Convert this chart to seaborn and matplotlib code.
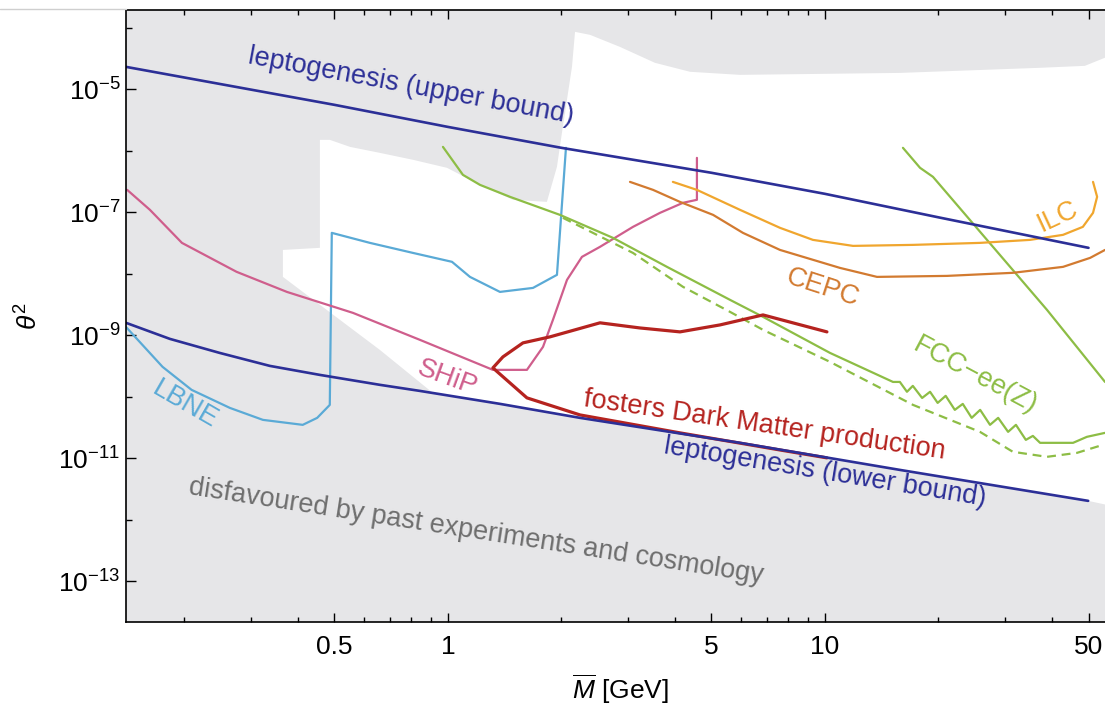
import numpy as np
import matplotlib
matplotlib.use("Agg")
import matplotlib.pyplot as plt
import matplotlib.ticker as mticker
from matplotlib.lines import Line2D
import seaborn as sns

# ---------------- data ----------------
# leptogenesis upper bound
lepto_up_M = [0.14, 0.5, 1.0, 2.0, 5.0, 10.0, 20.0, 50.0]
lepto_up_T = [2.32e-5, 5.6e-6, 2.45e-6, 1.12e-6, 4.4e-7, 2.0e-7, 8.3e-8, 2.65e-8]

# leptogenesis lower bound
lepto_lo_M = [0.14, 0.183, 0.248, 0.337, 0.457, 0.66, 0.843, 1.374, 2.24, 5.95, 15.8, 49.9]
lepto_lo_T = [1.60e-9, 8.77e-10, 5.19e-10, 3.19e-10, 2.28e-10, 1.57e-10, 1.25e-10,
              7.7e-11, 4.56e-11, 1.79e-11, 6.5e-12, 2.04e-12]

# allowed (white) region boundary
allowed_M = [0.365, 0.4575, 0.4575, 0.486, 0.55, 0.66, 0.808, 0.994, 1.216, 1.487, 1.83,
             1.946, 2.006, 2.133, 2.173, 2.381, 2.859, 3.54, 4.385, 5.95, 15.8, 37.2, 48.9,
             60.0, 60.0, 49.9, 15.8, 5.95, 2.24, 1.374, 0.912, 0.66, 0.365]
allowed_T = [2.45e-8, 2.65e-8, 1.51e-6, 1.51e-6, 1.16e-6, 9.27e-7, 7.15e-7, 5.3e-7, 2.8e-7,
             1.6e-7, 1.48e-7, 5.5e-7, 1.96e-6, 2.32e-5, 8.6e-5, 7.7e-5, 4.9e-5, 2.7e-5,
             1.93e-5, 1.72e-5, 1.85e-5, 2.24e-5, 2.41e-5, 4.0e-5, 1.6e-12, 2.04e-12,
             6.5e-12, 1.79e-11, 4.56e-11, 7.7e-11, 1.16e-10, 5.8e-10, 8.93e-9]

# LBNE
lbne_M = [0.14, 0.175, 0.209, 0.264, 0.323, 0.412, 0.45, 0.486, 0.492, 0.621, 0.808,
          1.025, 1.144, 1.374, 1.681, 1.946, 2.056]
lbne_T = [1.37e-9, 3.08e-10, 1.30e-10, 6.62e-11, 4.23e-11, 3.51e-11, 4.56e-11, 7.41e-11,
          4.64e-8, 3.19e-8, 2.19e-8, 1.57e-8, 8.93e-9, 5.09e-9, 5.91e-9, 9.64e-9, 1.12e-6]

# SHiP
ship_M = [0.141, 0.162, 0.197, 0.275, 0.374, 0.56, 0.843, 1.316, 1.62, 1.787, 1.899,
          2.069, 2.267, 2.531, 3.096, 3.651, 4.202, 4.575, 4.575]
ship_T = [2.32e-7, 1.10e-7, 3.19e-8, 1.08e-8, 5.09e-9, 2.32e-9, 8.45e-10, 2.75e-10,
          2.75e-10, 6.5e-10, 1.79e-9, 7.98e-9, 1.89e-8, 2.75e-8, 5.81e-8, 9.82e-8,
          1.43e-7, 1.60e-7, 7.69e-7]

# FCC-ee(Z), solid
fcc_M = [0.97, 1.096, 1.216, 1.46, 1.982, 2.74, 3.81, 5.6, 6.85, 10.31, 15.15, 15.8,
         16.5, 17.1, 18.1, 19.0, 19.9, 20.9, 22.1, 23.2, 24.5, 25.8, 27.4, 28.8, 30.6,
         32.1, 34.1, 35.6, 37.2, 45.5, 49.5, 55.3]
fcc_T = [1.16e-6, 4.07e-7, 2.80e-7, 1.79e-7, 9.1e-8, 3.85e-8, 1.30e-8, 3.78e-9, 2.0e-9,
         5.19e-10, 1.75e-10, 1.75e-10, 1.21e-10, 1.51e-10, 9.6e-11, 1.21e-10, 7.98e-11,
         1.04e-10, 6.15e-11, 7.69e-11, 4.56e-11, 6.15e-11, 3.51e-11, 4.56e-11, 2.70e-11,
         3.51e-11, 2.0e-11, 2.32e-11, 1.79e-11, 1.79e-11, 2.24e-11, 2.6e-11]

# FCC-ee(Z), dashed
fccd_M = [2.018, 3.096, 4.202, 5.6, 6.85, 10.31, 17.12, 25.77, 31.5, 38.8, 46.6, 54.6]
fccd_T = [8.15e-8, 2.19e-8, 6.15e-9, 2.41e-9, 1.23e-9, 3.71e-10, 7.41e-11, 2.70e-11,
          1.28e-11, 1.06e-11, 1.23e-11, 1.66e-11]

# FCC-ee(Z), steep branch
fccs_M = [16.1, 17.87, 19.34, 38.8, 55.3]
fccs_T = [1.12e-6, 5.30e-7, 3.78e-7, 2.60e-9, 1.75e-10]

# CEPC
cepc_M = [3.04, 3.50, 4.125, 5.05, 6.06, 7.60, 10.96, 13.74, 21.07, 31.5, 42.8, 50.5, 55.3]
cepc_T = [3.13e-7, 2.32e-7, 1.48e-7, 9.1e-8, 4.64e-8, 2.45e-8, 1.25e-8, 8.93e-9,
          9.27e-9, 1.04e-8, 1.30e-8, 1.82e-8, 2.45e-8]

# ILC
ilc_M = [3.95, 4.575, 5.95, 7.60, 9.29, 11.87, 17.12, 25.77, 34.98, 42.8, 48.3, 51.4, 52.7, 51.4]
ilc_T = [3.13e-7, 2.32e-7, 1.10e-7, 5.60e-8, 3.57e-8, 2.85e-8, 2.96e-8, 3.19e-8,
         3.57e-8, 4.31e-8, 5.81e-8, 9.82e-8, 1.79e-7, 3.13e-7]

# fosters Dark Matter production
dm_M = [10.12, 7.60, 4.125, 2.24, 1.62, 1.316, 1.399, 1.581, 1.865, 2.531, 3.23, 4.125,
        5.27, 6.85, 10.12]
dm_T = [1.02e-11, 1.37e-11, 2.60e-11, 5.09e-11, 9.64e-11, 2.96e-10, 4.47e-10, 7.55e-10,
        9.46e-10, 1.60e-9, 1.32e-9, 1.14e-9, 1.48e-9, 2.15e-9, 1.14e-9]

x_major = [0.5, 1, 5, 10, 50]
x_major_labels = ["0.5", "1", "5", "10", "50"]
x_minor = [0.2, 0.3, 0.4, 0.6, 0.7, 0.8, 0.9, 2, 3, 4, 6, 7, 8, 9, 20, 30, 40]
y_major = [1e-13, 1e-11, 1e-9, 1e-7, 1e-5]
y_minor = [1e-14, 1e-12, 1e-10, 1e-8, 1e-6, 1e-4]

# ---------------- style ----------------
sns.set_theme(style="ticks")
plt.rcParams["font.family"] = ["Liberation Sans", "DejaVu Sans"]
plt.rcParams["mathtext.fontset"] = "custom"
plt.rcParams["mathtext.rm"] = "Liberation Sans"
plt.rcParams["mathtext.it"] = "Liberation Sans:italic"
plt.rcParams["mathtext.bf"] = "Liberation Sans:bold"

C_LEPTO = "#2c2f97"
C_LBNE = "#5aaad6"
C_SHIP = "#cf5e8c"
C_FCC = "#8dbd45"
C_CEPC = "#d27a30"
C_ILC = "#f0a62e"
C_DM = "#b5231f"
C_GRAY = "#e6e6e8"
C_TXT = "#6e6e6e"

W, H = 1105, 705
fig = plt.figure(figsize=(W / 100, H / 100), dpi=100)
ax = fig.add_axes([126 / W, 1 - 622 / H, 1 - 126 / W, (622 - 10) / H])
ax.set_xscale("log")
ax.set_yscale("log")
ax.set_xlim(0.14, 55.3)
ax.set_ylim(10 ** -13.66, 10 ** -3.71)
ax.set_facecolor(C_GRAY)

ax.fill(allowed_M, allowed_T, color="white", lw=0, zorder=0.5)

def draw(xs, ys, color, lw=1.6, **kw):
    sns.lineplot(x=xs, y=ys, sort=False, estimator=None, color=color,
                 linewidth=lw, ax=ax, **kw)

draw(lbne_M, lbne_T, C_LBNE)
draw(ship_M, ship_T, C_SHIP)
draw(fccd_M, fccd_T, C_FCC, linestyle=(0, (4, 2.6)))
draw(fcc_M, fcc_T, C_FCC)
draw(fccs_M, fccs_T, C_FCC)
draw(cepc_M, cepc_T, C_CEPC)
draw(ilc_M, ilc_T, C_ILC)
draw(dm_M, dm_T, C_DM, lw=2.3)
draw(lepto_up_M, lepto_up_T, C_LEPTO, lw=1.9)
draw(lepto_lo_M, lepto_lo_T, C_LEPTO, lw=1.9)

fs = 19.5
def label(x, y, s, color, rot):
    ax.text(x, y, s, color=color, fontsize=fs, rotation=rot, rotation_mode="anchor",
            ha="center", va="center", zorder=5)

label(0.80, 1.14e-5, "leptogenesis (upper bound)", C_LEPTO, -10.5)
label(10.0, 6.0e-12, "leptogenesis (lower bound)", C_LEPTO, -9.3)
label(6.93, 3.38e-11, "fosters Dark Matter production", C_DM, -8.3)
label(1.187, 6.4e-13, "disfavoured by past experiments and cosmology", C_TXT, -8.8)
label(0.2006, 7.4e-11, "LBNE", C_LBNE, -30)
label(0.994, 2.04e-10, "SHiP", C_SHIP, -20)
label(9.88, 5.9e-9, "CEPC", C_CEPC, -18)
label(41.5, 8.45e-8, "ILC", C_ILC, 25)
label(25.0, 2.19e-10, "FCC\u2212ee(Z)", C_FCC, -28)

# axes / ticks
ax.xaxis.set_major_locator(mticker.FixedLocator(x_major))
ax.xaxis.set_major_formatter(mticker.FixedFormatter(x_major_labels))
ax.xaxis.set_minor_locator(mticker.FixedLocator(x_minor))
ax.xaxis.set_minor_formatter(mticker.NullFormatter())
ax.yaxis.set_major_locator(mticker.FixedLocator(y_major))
ax.yaxis.set_major_formatter(mticker.FuncFormatter(
    lambda v, p: r"$10^{%d}$" % int(round(np.log10(v)))))
ax.yaxis.set_minor_locator(mticker.FixedLocator(y_minor))
ax.yaxis.set_minor_formatter(mticker.NullFormatter())

ax.tick_params(which="both", direction="in", top=True, right=False, colors="black",
               labelcolor="black", width=1.0)
ax.tick_params(axis="x", which="major", length=6.5, labelsize=19, pad=9)
ax.tick_params(axis="x", which="minor", length=3.8)
ax.tick_params(axis="y", which="major", length=7.5, labelsize=19, pad=4)
ax.tick_params(axis="y", which="minor", length=4.5)

for side in ["left", "bottom", "top"]:
    ax.spines[side].set_color("black")
    ax.spines[side].set_linewidth(1.2)
ax.spines["right"].set_visible(False)

ax.set_xlabel(r"$\overline{M}$ [GeV]", fontsize=19, color="black")
ax.xaxis.set_label_coords(0.505, -0.083)
ax.set_ylabel(r"$\theta^2$", fontsize=19, color="black")
ax.yaxis.set_label_coords(-0.085, 0.5)

fig.add_artist(Line2D([0, 126 / W], [1 - 9 / H, 1 - 9 / H], color="#cfcfcf", lw=1.0))

fig.savefig("out.png", dpi=100)
